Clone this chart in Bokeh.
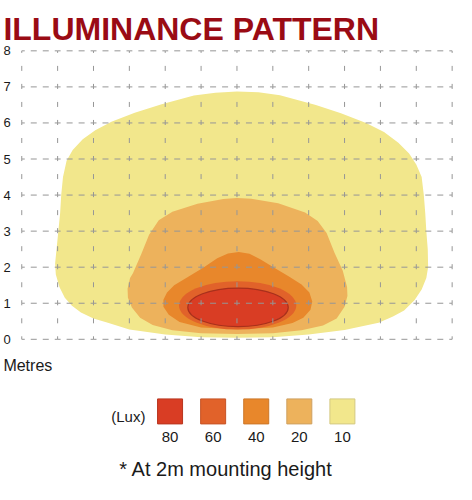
from bokeh.plotting import figure
from bokeh.models import Range1d
from bokeh.core.properties import value
from bokeh.embed import file_html
from bokeh.resources import INLINE

# ---------------- data ----------------
title_text = "ILLUMINANCE PATTERN"
axis_label = "Metres"
x_ticks = list(range(-6, 7))
y_ticks = list(range(0, 9))
lux_unit = "(Lux)"
lux_levels = [80, 60, 40, 20, 10]
lux_colors = ["#D93D24", "#E1622A", "#E8872B", "#EDB25C", "#F2E78C"]
footnote = "* At 2m mounting height"

# 10 lux contour (metres)
c10_x = [0.0, -1.0, -2.0, -3.0, -3.6, -4.0, -4.35, -4.6, -4.8, -4.95, -5.05, -5.07, -5.02, -4.98,
         -4.93, -4.9, -4.85, -4.75, -4.58, -4.3, -3.95, -3.5, -2.85, -2.1, -1.2, -0.6, 0.0, 0.6,
         1.2, 2.2, 2.9, 3.6, 4.1, 4.5, 4.8, 5.0, 5.15, 5.21, 5.25, 5.28, 5.32, 5.33, 5.28, 5.15,
         4.95, 4.66, 4.35, 3.95, 3.0, 2.0, 1.0]
c10_y = [0.04, 0.06, 0.13, 0.27, 0.46, 0.58, 0.74, 0.93, 1.15, 1.45, 1.8, 2.1, 2.6, 3.0,
         3.5, 4.0, 4.5, 4.95, 5.25, 5.55, 5.8, 6.03, 6.28, 6.52, 6.76, 6.84, 6.87, 6.85,
         6.77, 6.5, 6.27, 6.0, 5.75, 5.45, 5.15, 4.85, 4.5, 4.0, 3.5, 3.0, 2.5, 2.0, 1.7, 1.38,
         1.08, 0.8, 0.63, 0.46, 0.26, 0.13, 0.06]

# 20 lux contour
c20_x = [0.0, -1.0, -1.8, -2.35, -2.7, -2.93, -3.04, -3.05, -2.98, -2.9, -2.67, -2.45, -2.18,
         -1.8, -1.1, -0.38, 0.0, 0.4, 1.15, 1.9, 2.25, 2.5, 2.72, 2.95, 3.07, 3.08, 3.0, 2.78,
         2.4, 1.8, 1.0]
c20_y = [0.15, 0.17, 0.25, 0.4, 0.6, 0.88, 1.15, 1.4, 1.7, 1.83, 2.36, 2.9, 3.3,
         3.54, 3.76, 3.89, 3.92, 3.9, 3.77, 3.52, 3.28, 2.95, 2.4, 1.9, 1.45, 1.2, 0.9, 0.58,
         0.38, 0.25, 0.17]

# 40 lux contour
c40_x = [0.0, -1.0, -1.6, -1.9, -2.05, -2.05, -1.95, -1.75, -1.38, -0.92, -0.55, -0.25, 0.05,
         0.35, 0.65, 1.05, 1.45, 1.8, 2.02, 2.1, 2.05, 1.85, 1.55, 1.0]
c40_y = [0.28, 0.33, 0.48, 0.68, 0.9, 1.1, 1.3, 1.5, 1.72, 2.0, 2.25, 2.38, 2.42,
         2.37, 2.22, 1.98, 1.74, 1.52, 1.3, 1.05, 0.82, 0.6, 0.45, 0.33]

# 60 and 80 lux contours (ellipses: centre x, centre y, width, height)
e60 = [0.02, 0.94, 3.27, 1.34]
e80 = [0.03, 0.885, 2.8, 1.07]

# ---------------- layout ----------------
W, H = 456, 484
KX, KY = W / 472.0, H / 500.0          # reference-pixel -> canvas scale
GX0, GX1 = 22.0 * KX, 467.5 * KX       # canvas x of first / last x tick
GY0, GY1 = 350.0 * KY, 52.0 * KY       # canvas y of first / last y tick
SX = (GX1 - GX0) / (x_ticks[-1] - x_ticks[0])
SY = (GY0 - GY1) / (y_ticks[-1] - y_ticks[0])
xs = x_ticks[0] - GX0 / SX
xe = xs + W / SX
ye = y_ticks[0] + GY0 / SY
ys = ye - H / SY


def px(rx):
    return xs + rx * KX / SX


def py(ry):
    return ye - ry * KY / SY


FONT = value("Liberation Sans")

p = figure(width=W, height=H, x_range=Range1d(xs, xe), y_range=Range1d(ys, ye),
           x_axis_type=None, y_axis_type=None, toolbar_location=None,
           output_backend="svg", min_border=0)
p.outline_line_color = None
p.xgrid.visible = False
p.ygrid.visible = False
p.background_fill_color = "white"
p.border_fill_color = "white"

# contours
p.patch(c10_x, c10_y, fill_color=lux_colors[4], line_color=None)
p.patch(c20_x, c20_y, fill_color=lux_colors[3], line_color=None)
p.patch(c40_x, c40_y, fill_color=lux_colors[2], line_color=None)
p.ellipse(x=[e60[0]], y=[e60[1]], width=[e60[2]], height=[e60[3]],
          fill_color=lux_colors[1], line_color=None)
p.ellipse(x=[e80[0]], y=[e80[1]], width=[e80[2]], height=[e80[3]],
          fill_color=lux_colors[0], line_color="#A8301C", line_width=1.2)

# dashed grid drawn on top
GRID = "#969696"
vx0, vy0, vx1, vy1 = [], [], [], []
for xv in x_ticks:
    for a, b in zip(y_ticks[:-1], y_ticks[1:]):
        vx0.append(xv); vy0.append(a); vx1.append(xv); vy1.append(b)
p.segment(vx0, vy0, vx1, vy1, line_color=GRID, line_width=1,
          line_dash="5 13", line_dash_offset=2)
hx0, hy0, hx1, hy1 = [], [], [], []
for yv in y_ticks:
    for a, b in zip(x_ticks[:-1], x_ticks[1:]):
        hx0.append(a); hy0.append(yv); hx1.append(b); hy1.append(yv)
p.segment(hx0, hy0, hx1, hy1, line_color=GRID, line_width=1,
          line_dash="6 6", line_dash_offset=3)

# tick labels
p.text(x=[px(3)] * len(y_ticks), y=y_ticks, text=[str(v) for v in y_ticks],
       text_align="left", text_baseline="middle", text_font=FONT,
       text_font_size="13px", text_color="#1a1a1a")

# title
p.text(x=[px(3)], y=[py(29)], text=[title_text], text_align="left",
       text_baseline="alphabetic", text_font=FONT, text_font_style="bold",
       text_font_size="32px", text_color="#9A0B14")

# axis label
p.text(x=[px(3)], y=[py(377)], text=[axis_label], text_align="left",
       text_baseline="middle", text_font=FONT, text_font_size="16px",
       text_color="#1a1a1a")

# legend
border_cols = ["#B8351F", "#C65426", "#CC7628", "#CFA060", "#D4C983"]
lx = [px(175.5 + i * 44.6) for i in range(len(lux_levels))]
p.rect(x=lx, y=[py(424.5)] * len(lux_levels), width=25, height=25,
       width_units="screen", height_units="screen",
       fill_color=lux_colors, line_color=border_cols, line_width=1)
p.text(x=lx, y=[py(451)] * len(lux_levels), text=[str(v) for v in lux_levels],
       text_align="center", text_baseline="middle", text_font=FONT,
       text_font_size="15px", text_color="#1a1a1a")
p.text(x=[px(150)], y=[py(430)], text=[lux_unit], text_align="right",
       text_baseline="middle", text_font=FONT, text_font_size="15px",
       text_color="#1a1a1a")

# footnote
p.text(x=[px(123)], y=[py(484)], text=[footnote], text_align="left",
       text_baseline="middle", text_font=FONT, text_font_size="20px",
       text_color="#1a1a1a")

open("out.html", "w").write(file_html(p, INLINE))
